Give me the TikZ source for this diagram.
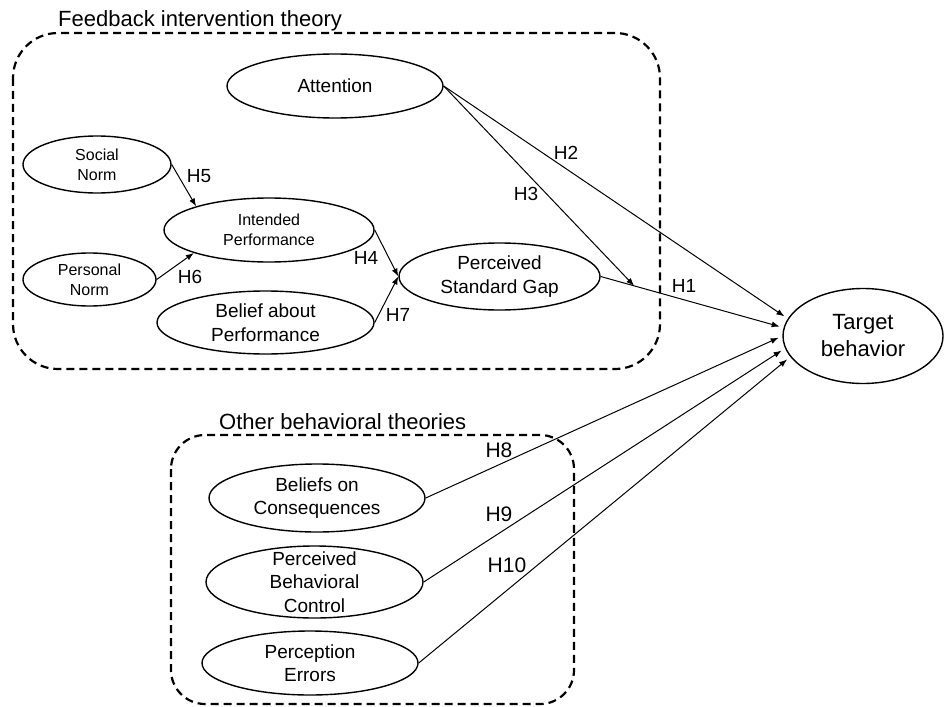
\documentclass[tikz,border=0pt]{standalone}
\usepackage{fontspec}
\setmainfont{Liberation Sans}
\usetikzlibrary{shapes.geometric,arrows.meta}
\begin{document}
\begin{tikzpicture}[x=1pt,y=-1pt,
  ell/.style={draw, ellipse, line width=1.4pt, inner sep=0pt},
  grp/.style={draw, line width=2.2pt, dash pattern=on 8pt off 5pt},
  arr/.style={line width=1pt, -{Latex[length=8pt,width=6pt]}},
  tsmall/.style={align=center, font=\fontsize{16}{20}\selectfont},
  tmid/.style={align=center, font=\fontsize{19}{23.5}\selectfont},
  tbig/.style={align=center, font=\fontsize{22}{27}\selectfont},
  hlab/.style={inner sep=0pt, font=\fontsize{19}{23}\selectfont},
  hlabb/.style={inner sep=0pt, font=\fontsize{21}{25}\selectfont},
  ttl/.style={inner sep=0pt, anchor=base west, font=\fontsize{22}{27}\selectfont}
]
\useasboundingbox (0,0) rectangle (949,706);

% group boxes
\draw[grp, rounded corners=45pt] (13,33) rectangle (660,369);
\draw[grp, rounded corners=34pt] (171,435) rectangle (574,704);
\node[ttl] (t1) at (58,27) {Feedback intervention theory};
\node[ttl] (t2) at (219,429) {Other behavioral theories};

% nodes
\node[ell, minimum width=216, minimum height=64, label={[tmid]center:Attention}] (attn) at (335,86) {};
\node[ell, minimum width=148, minimum height=57, label={[tsmall]center:Social\\Norm}] (sn) at (97,164.5) {};
\node[ell, minimum width=210, minimum height=64, label={[tsmall]center:Intended\\Performance}] (ip) at (269,230) {};
\node[ell, minimum width=133, minimum height=53, label={[tsmall]center:Personal\\Norm}] (pn) at (89.5,279.5) {};
\node[ell, minimum width=217, minimum height=63, label={[tmid]center:Belief about\\Performance}] (bap) at (265.5,322.5) {};
\node[ell, minimum width=201, minimum height=67, label={[tmid]center:Perceived\\Standard Gap}] (psg) at (499.5,276.5) {};
\node[ell, minimum width=160, minimum height=95, label={[tbig]center:Target\\behavior}] (tgt) at (863,336) {};
\node[ell, minimum width=216, minimum height=68, label={[tmid]center:Beliefs on\\Consequences}] (boc) at (317,498) {};
\node[ell, minimum width=217, minimum height=72, label={[tmid]center:Perceived\\Behavioral\\Control}] (pbc) at (314.5,582) {};
\node[ell, minimum width=216, minimum height=64, label={[tmid]center:Perception\\Errors}] (pe) at (310,663) {};

% connectors
\draw[arr] (sn.east) -- (ip.162);
\draw[arr] (pn.east) -- (ip.197);
\draw[arr] (ip.east) -- (psg.west);
\draw[arr] (bap.east) -- (psg.west);
\draw[arr, shorten >=4pt] (psg.east) -- coordinate[pos=0.183] (m) (tgt.174);
\draw[arr, shorten >=4pt] (attn.east) -- (tgt.167);
\draw[arr] (attn.east) -- (m);
\draw[arr, shorten >=4pt] (boc.east) -- (tgt.180);
\draw[arr, shorten >=4pt] (pbc.east) -- (tgt.189);
\draw[arr, shorten >=4pt] (pe.east) -- (tgt.196);

% hypothesis labels
\node[hlab] (h1) at (684,286) {H1};
\node[hlab] (h2) at (566,153) {H2};
\node[hlab] (h3) at (526,194) {H3};
\node[hlab] (h4) at (366,258) {H4};
\node[hlab] (h5) at (199,176) {H5};
\node[hlab] (h6) at (190,277) {H6};
\node[hlab] (h7) at (398,315) {H7};
\node[hlabb] (h8) at (499,450) {H8};
\node[hlabb] (h9) at (499,514) {H9};
\node[hlabb] (h10) at (507,565) {H10};
\end{tikzpicture}
\end{document}
